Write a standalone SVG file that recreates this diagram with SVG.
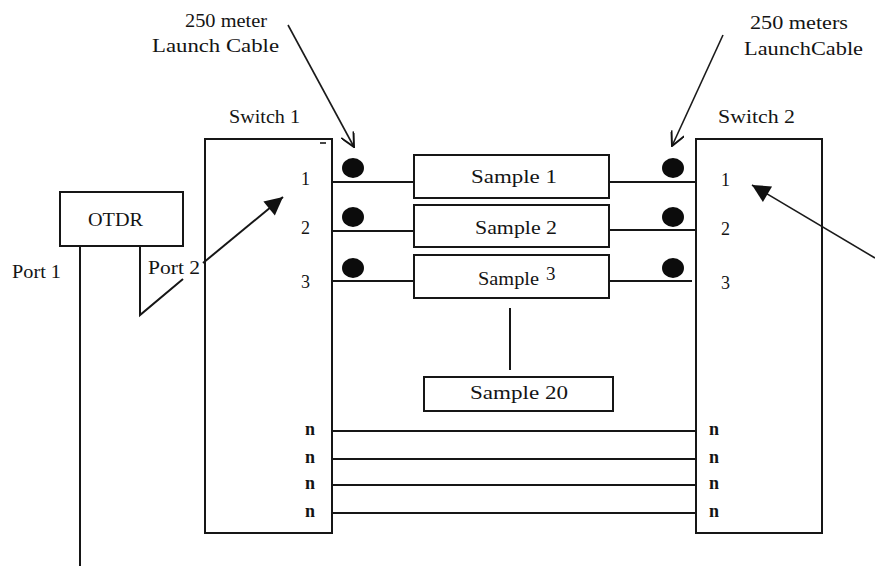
<svg xmlns="http://www.w3.org/2000/svg" width="875" height="573" viewBox="0 0 875 573">
  <style>
    .box { fill: #fff; stroke: #161616; stroke-width: 2; }
    .wire { stroke: #161616; stroke-width: 2; fill: none; }
    .thin { stroke: #1a1a1a; stroke-width: 1.6; fill: none; }
    .dot { fill: #0c0c0c; }
    text { font-family: "Liberation Serif", "Times New Roman", serif; font-size: 19px; fill: #141414; }
    .num { font-size: 18px; }
    .n { font-size: 18px; font-weight: bold; }
  </style>
  <defs>
    <marker id="solidHead" viewBox="0 0 10 10" refX="10" refY="5" markerWidth="24" markerHeight="18" markerUnits="userSpaceOnUse" orient="auto">
      <path d="M0,0 L10,5 L0,10 z" fill="#111"/>
    </marker>
    <marker id="openHead" viewBox="0 0 10 10" refX="10" refY="5" markerWidth="16" markerHeight="14" markerUnits="userSpaceOnUse" orient="auto">
      <path d="M0,0 L10,5 L0,10" fill="none" stroke="#111" stroke-width="1.4"/>
    </marker>
  </defs>

  <rect width="875" height="573" fill="#fff"/>

  <!-- switches -->
  <g id="switch1">
    <rect class="box" x="205" y="139" width="127" height="394"/>
    <line class="thin" x1="320" y1="143" x2="326" y2="143"/>
    <text x="229" y="123" textLength="71" lengthAdjust="spacingAndGlyphs">Switch 1</text>
    <text class="num" x="301" y="185">1</text>
    <text class="num" x="301" y="234">2</text>
    <text class="num" x="301" y="288">3</text>
    <text class="n" x="305" y="435">n</text>
    <text class="n" x="305" y="463">n</text>
    <text class="n" x="305" y="489">n</text>
    <text class="n" x="305" y="517">n</text>
  </g>
  <g id="switch2">
    <rect class="box" x="696" y="139" width="126" height="394"/>
    <text x="718" y="123" textLength="77" lengthAdjust="spacingAndGlyphs">Switch 2</text>
    <text class="num" x="721" y="186">1</text>
    <text class="num" x="721" y="235">2</text>
    <text class="num" x="721" y="289">3</text>
    <text class="n" x="709" y="435">n</text>
    <text class="n" x="709" y="463">n</text>
    <text class="n" x="709" y="489">n</text>
    <text class="n" x="709" y="517">n</text>
  </g>

  <!-- OTDR -->
  <g id="otdr">
    <rect class="box" x="60" y="192" width="123" height="54"/>
    <text x="88" y="226" textLength="55" lengthAdjust="spacingAndGlyphs">OTDR</text>
  </g>

  <!-- samples -->
  <g id="sample1">
    <rect class="box" x="414" y="155" width="195" height="43"/>
    <text x="471" y="183" textLength="86" lengthAdjust="spacingAndGlyphs">Sample 1</text>
  </g>
  <g id="sample2">
    <rect class="box" x="414" y="205" width="195" height="42"/>
    <text x="475" y="234" textLength="82" lengthAdjust="spacingAndGlyphs">Sample 2</text>
  </g>
  <g id="sample3">
    <rect class="box" x="414" y="255" width="195" height="43"/>
    <text x="478" y="285" textLength="61" lengthAdjust="spacingAndGlyphs">Sample</text>
    <text x="546" y="280">3</text>
  </g>
  <g id="sample20">
    <rect class="box" x="424" y="377" width="189" height="34"/>
    <text x="470" y="399" textLength="98" lengthAdjust="spacingAndGlyphs">Sample 20</text>
  </g>

  <!-- launch cable connectors -->
  <g id="connectors-left">
    <ellipse class="dot" cx="353" cy="168" rx="11" ry="10"/>
    <ellipse class="dot" cx="353" cy="217" rx="11" ry="10"/>
    <ellipse class="dot" cx="353" cy="268" rx="11" ry="10"/>
  </g>
  <g id="connectors-right">
    <ellipse class="dot" cx="673" cy="168" rx="11" ry="10"/>
    <ellipse class="dot" cx="673" cy="217" rx="11" ry="10"/>
    <ellipse class="dot" cx="673" cy="268" rx="11" ry="10"/>
  </g>

  <!-- labels -->
  <g id="labels">
    <text x="185" y="27" textLength="82" lengthAdjust="spacingAndGlyphs">250 meter</text>
    <text x="152" y="52" textLength="127" lengthAdjust="spacingAndGlyphs">Launch  Cable</text>
    <text x="750" y="29" textLength="98" lengthAdjust="spacingAndGlyphs">250 meters</text>
    <text x="744" y="55" textLength="119" lengthAdjust="spacingAndGlyphs">LaunchCable</text>
    <text x="12" y="278" textLength="49" lengthAdjust="spacingAndGlyphs">Port 1</text>
  </g>

  <!-- connectors -->
  <g id="connectors">
    <!-- fibre runs switch 1 to samples to switch 2 -->
    <line class="wire" x1="332" y1="182" x2="414" y2="182"/>
    <line class="wire" x1="332" y1="231" x2="414" y2="231"/>
    <line class="wire" x1="332" y1="281" x2="414" y2="281"/>
    <line class="wire" x1="609" y1="182" x2="696" y2="182"/>
    <line class="wire" x1="609" y1="230" x2="696" y2="230"/>
    <line class="wire" x1="609" y1="281" x2="692" y2="281"/>
    <line class="wire" x1="510" y1="308" x2="510" y2="370"/>
    <!-- n pass-through runs -->
    <line class="wire" x1="332" y1="431" x2="696" y2="431"/>
    <line class="wire" x1="332" y1="459" x2="696" y2="459"/>
    <line class="wire" x1="332" y1="485" x2="696" y2="485"/>
    <line class="wire" x1="332" y1="513" x2="696" y2="513"/>
    <!-- OTDR ports -->
    <line class="wire" x1="80" y1="246" x2="80" y2="566"/>
    <polyline class="wire" points="140,246 140,315 183,279"/>
    <line class="wire" x1="203" y1="263" x2="283" y2="197" marker-end="url(#solidHead)"/>
    <text x="148" y="274" textLength="52" lengthAdjust="spacingAndGlyphs">Port 2</text>
    <!-- callout arrows -->
    <line class="thin" x1="288" y1="25" x2="354" y2="147" marker-end="url(#openHead)"/>
    <line class="thin" x1="723" y1="35" x2="672" y2="146" marker-end="url(#openHead)"/>
    <line class="thin" x1="875" y1="258" x2="752" y2="185" marker-end="url(#solidHead)"/>
  </g>
</svg>
